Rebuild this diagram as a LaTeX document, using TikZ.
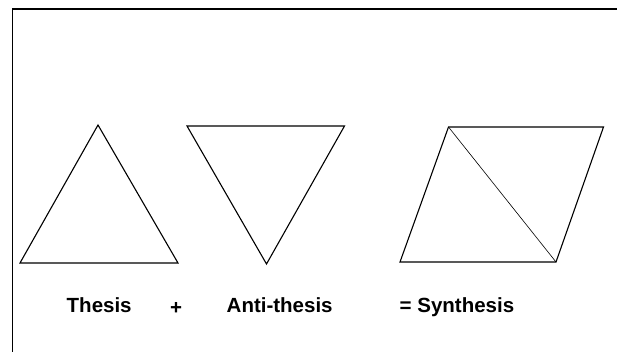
\documentclass[tikz,border=0pt]{standalone}
\usepackage{fontspec}
\setmainfont{Liberation Sans}
\begin{document}
\begin{tikzpicture}[x=1pt,y=-1pt,
  shape line/.style={line width=1.1pt,line join=miter},
  thin line/.style={line width=0.6pt},
  frame line/.style={line width=1.4pt},
  label/.style={font=\bfseries\fontsize{20.5}{24}\selectfont,inner sep=0pt,anchor=base west}]
\useasboundingbox (0,0) rectangle (617,352);
% frame
\coordinate (fb) at (12.7,352);
\coordinate (fc) at (12.7,9);
\coordinate (fr) at (617,9);
\draw[frame line] (fb) -- (fc) -- (fr);
% thesis triangle
\coordinate (ta) at (98,125);
\coordinate (tl) at (20,263);
\coordinate (tr) at (178,263);
\draw[shape line] (ta) -- (tl) -- (tr) -- cycle;
% anti-thesis triangle
\coordinate (al) at (187,126);
\coordinate (ar) at (344.5,126);
\coordinate (ab) at (266.5,264);
\draw[shape line] (al) -- (ar) -- (ab) -- cycle;
% synthesis parallelogram
\coordinate (stl) at (448.5,127);
\coordinate (str) at (603.5,127);
\coordinate (sbr) at (556,262);
\coordinate (sbl) at (400,262);
\draw[shape line] (stl) -- (str) -- (sbr) -- (sbl) -- cycle;
\draw[thin line] (stl) -- (sbr);
% labels
\node[label] (thesis) at (66.5,312) {Thesis};
\node[label,anchor=base] (plus) at (176,314) {+};
\node[label] (anti) at (226.5,312) {Anti-thesis};
\node[label] (syn) at (399.5,312) {= Synthesis};
\end{tikzpicture}
\end{document}
